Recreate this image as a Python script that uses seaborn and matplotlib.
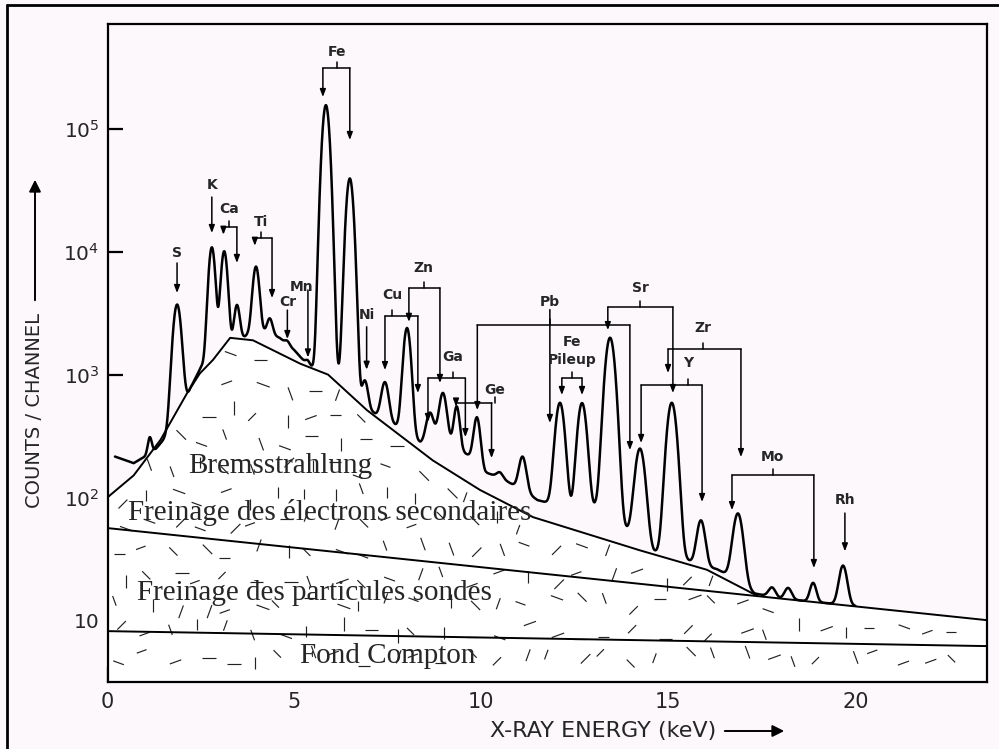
import numpy as np
import pandas as pd
import matplotlib
matplotlib.use("Agg")
import matplotlib.pyplot as plt
import seaborn as sns
from matplotlib import font_manager
from matplotlib.collections import LineCollection

# ------------------------------------------------------------------ data
# characteristic X-ray peaks (keV, counts above continuum, width keV)
peak_energy = [1.13, 1.86, 2.79, 3.12, 3.46, 3.97, 4.34, 4.81, 5.36, 5.84, 6.48, 6.88,
               7.42, 8.01, 8.62, 8.97, 9.34, 9.88, 10.49, 11.10, 12.10, 12.69, 13.44,
               14.24, 15.09, 15.87, 16.86, 17.77, 18.20, 18.87, 19.67]
peak_height = [80, 3300, 9600, 8600, 1850, 5450, 750, 120, 120, 156000, 39000, 400,
               440, 2070, 200, 410, 290, 250, 15, 100, 505, 515, 1930,
               205, 556, 37, 53, 3, 3.5, 6, 14.5]
peak_sigma = [0.05, 0.10, 0.08, 0.08, 0.07, 0.08, 0.07, 0.06, 0.06, 0.09, 0.09, 0.08,
              0.09, 0.09, 0.09, 0.09, 0.07, 0.08, 0.08, 0.09, 0.11, 0.11, 0.12,
              0.12, 0.12, 0.10, 0.12, 0.09, 0.09, 0.08, 0.10]

# continuum beneath the measured spectrum (keV, counts)
cont_energy = [0.20, 0.50, 0.70, 1.00, 1.30, 1.60, 2.00, 2.22, 2.50, 2.96, 3.46, 3.74,
               4.20, 4.60, 5.00, 5.40, 6.14, 6.80, 7.10, 7.42, 7.75, 8.01, 8.37, 8.62,
               8.80, 8.97, 9.22, 9.57, 9.88, 10.10, 10.50, 10.78, 11.10, 11.50, 12.10,
               12.40, 12.69, 13.05, 13.44, 13.85, 14.24, 14.60, 15.09, 15.60, 15.87,
               16.30, 16.86, 17.30, 18.00, 19.00, 20.00]
cont_counts = [215, 200, 190, 215, 250, 320, 500, 780, 1150, 1400, 1850, 2100,
               2200, 2000, 1580, 1150, 1000, 500, 490, 430, 380, 330, 280, 290,
               320, 300, 280, 228, 200, 160, 145, 130, 115, 95, 85,
               75, 72, 82, 70, 55, 45, 36, 34, 30, 28,
               26, 21, 16.5, 15.0, 14.0, 13.0]

# background components
brems_energy = [0.0, 0.70, 1.42, 2.13, 2.47, 2.82, 3.28, 3.89, 5.15, 5.90, 6.94,
                8.70, 9.96, 11.38, 14.24, 16.03, 17.37]
brems_counts = [100, 151, 295, 708, 1023, 1318, 1995, 1905, 1230, 1000, 513,
                200, 115, 69, 37, 25.7, 15.8]
probe_energy = [0.0, 23.5]
probe_counts = [56.2, 10.0]
compton_energy = [0.0, 23.5]
compton_counts = [8.13, 6.14]

x_ticks = [0, 5, 10, 15, 20]
x_tick_labels = ["0", "5", "10", "15", "20"]
y_ticks = [10, 100, 1000, 10000, 100000]
y_tick_labels = ["10", "$10^2$", "$10^3$", "$10^4$", "$10^5$"]

region_labels = ["Bremsstrahlung", "Freinage des électrons secondaires",
                 "Freinage des particules sondes", "Fond Compton"]

# ------------------------------------------------------------------ style
BG = "#fcf8fc"
sns.set_style("ticks")
names = {f.name for f in font_manager.fontManager.ttflist}
SANS = "Liberation Sans Narrow" if "Liberation Sans Narrow" in names else "DejaVu Sans"
plt.rcParams["font.family"] = [SANS, "DejaVu Sans"]
plt.rcParams["mathtext.fontset"] = "custom"
plt.rcParams["mathtext.rm"] = SANS
plt.rcParams["mathtext.it"] = SANS

W, H = 999, 749
fig = plt.figure(figsize=(W / 100, H / 100), dpi=100, facecolor=BG)
px0, px1, py0, py1 = 107.5, 987.0, 24.0, 682.0   # axes box in image pixels
ax = fig.add_axes([px0 / W, 1 - py1 / H, (px1 - px0) / W, (py1 - py0) / H])
ax.set_facecolor(BG)
ax.set_yscale("log")
XMAX, YMIN, YMAX = 23.52, 3.13, 7.2e5
ax.set_xlim(0, XMAX)
ax.set_ylim(YMIN, YMAX)

# ------------------------------------------------------------------ textured background region
up_E = brems_energy + [probe_energy[1]]
up_C = brems_counts + [probe_counts[1]]
ax.fill_between(up_E, YMIN, up_C, color="white", lw=0, zorder=1)

fig.canvas.draw()
inv = ax.transData.inverted()
segs = []
cell = 27.0
nx = int((px1 - px0) / cell) + 1
ny = int((py1 - py0) / cell) + 1
angles = np.deg2rad([0, 45, 90, 135, 20, 160, 70, 110])
for i in range(nx):
    for j in range(ny):
        h1 = (np.sin(i * 127.1 + j * 311.7) * 43758.5453) % 1.0
        h2 = (np.sin(i * 269.5 + j * 183.3) * 28001.8384) % 1.0
        h3 = (np.sin(i * 419.2 + j * 371.9) * 19642.3491) % 1.0
        cx = px0 + (i + 0.5) * cell + (h1 - 0.5) * 16
        cy = H - (py0 + (j + 0.5) * cell + (h2 - 0.5) * 16)
        e, c = inv.transform((cx, cy))
        if e < 0.15 or e > XMAX - 0.15 or c < YMIN * 1.25:
            continue
        lim = 10 ** np.interp(e, up_E, np.log10(up_C))
        if c > lim * 0.85:
            continue
        a = angles[int(h3 * len(angles)) % len(angles)]
        ln = 10 + 4 * h1
        dx, dy = np.cos(a) * ln / 2, np.sin(a) * ln / 2
        p0 = inv.transform((cx - dx, cy - dy))
        p1 = inv.transform((cx + dx, cy + dy))
        segs.append([p0, p1])
ax.add_collection(LineCollection(segs, colors="#222222", linewidths=0.85, zorder=2))

# ------------------------------------------------------------------ background curves
sns.lineplot(x=brems_energy, y=brems_counts, ax=ax, color="k", lw=1.4,
             estimator=None, sort=False, zorder=4)
sns.lineplot(x=probe_energy, y=probe_counts, ax=ax, color="k", lw=1.4,
             estimator=None, sort=False, zorder=4)
sns.lineplot(x=compton_energy, y=compton_counts, ax=ax, color="k", lw=1.4,
             estimator=None, sort=False, zorder=4)

# ------------------------------------------------------------------ spectrum
E = np.arange(0.20, 20.0001, 0.004)
spec = 10 ** np.interp(E, cont_energy, np.log10(cont_counts))
for e0, hgt, s in zip(peak_energy, peak_height, peak_sigma):
    spec = spec + hgt * np.exp(-(E - e0) ** 2 / (2 * s ** 2))
spec_df = pd.DataFrame({"energy": E, "counts": spec})
sns.lineplot(data=spec_df, x="energy", y="counts", ax=ax, color="k", lw=1.8,
             estimator=None, sort=False, zorder=5)

# ------------------------------------------------------------------ axes cosmetics
ax.set_xlabel("")
ax.set_ylabel("")
ax.set_xticks(x_ticks)
ax.set_xticklabels(x_tick_labels)
ax.set_yticks(y_ticks)
ax.set_yticklabels(y_tick_labels)
ax.minorticks_off()
ax.tick_params(axis="both", direction="in", length=11, width=1.6, color="k")
ax.tick_params(axis="x", labelsize=15, pad=7)
ax.tick_params(axis="y", labelsize=14.5, pad=6)
for sp in ax.spines.values():
    sp.set_linewidth(1.6)
    sp.set_color("k")
    sp.set_zorder(6)

# region names (serif)
def axfrac(x, y):
    return (x - px0) / (px1 - px0), (py1 - y) / (py1 - py0)

for txt, (x, y) in zip(region_labels, [(188, 473), (128, 520), (137, 600), (300, 663)]):
    ax.text(*axfrac(x, y), txt, transform=ax.transAxes, ha="left", va="baseline",
            fontsize=21, family=["Liberation Serif", "DejaVu Serif"], zorder=7)

# ------------------------------------------------------------------ peak identifications
AKW = dict(color="k", lw=1.1)
def arrow(e, c_from, c_to):
    ax.annotate("", xy=(e, 10 ** c_to), xytext=(e, 10 ** c_from),
                arrowprops=dict(arrowstyle="-|>,head_length=0.45,head_width=0.17",
                                color="k", lw=1.1, shrinkA=0, shrinkB=0), zorder=8)

def label(e, c, txt):
    ax.text(e, 10 ** c, txt, ha="center", va="center", fontsize=10,
            fontweight="bold", zorder=8)

singles = [("S", 1.86, 3.99, 3.91, 3.665), ("K", 2.79, 4.545, 4.447, 4.154),
           ("Cr", 4.81, 3.592, 3.526, 3.29), ("Ni", 6.93, 3.486, 3.39, 3.04),
           ("Rh", 19.72, 1.978, 1.872, 1.56)]
for t, e, lc, c0, c1 in singles:
    label(e, lc, t)
    arrow(e, c0, c1)
label(5.2, 3.714, "Mn")
arrow(5.36, 3.69, 3.14)

brackets = [
    ("Ca", 3.25, 4.35, 4.203, [(3.10, 4.14), (3.46, 3.91)]),
    ("Ti", 4.10, 4.244, 4.113, [(3.94, 4.05), (4.40, 3.624)]),
    ("Fe", 6.14, 5.629, 5.499, [(5.76, 5.262), (6.48, 4.912)]),
    ("Cu", 7.61, 3.649, 3.478, [(7.42, 3.037), (8.30, 2.85)]),
    ("Zn", 8.46, 3.869, 3.706, [(8.06, 3.43), (8.89, 2.932)]),
    ("Ga", 9.24, 3.143, 2.972, [(8.57, 2.614), (9.57, 2.491)]),
    ("Ge", 10.35, 2.874, 2.769, [(9.32, 2.74), (10.27, 2.32)]),
    ("Pb", 11.83, 3.592, 3.404, [(9.89, 2.711), (13.97, 2.385)]),
    ("", 12.42, 3.0, 2.972, [(12.15, 2.834), (12.69, 2.834)]),
    ("Sr", 14.24, 3.706, 3.551, [(13.38, 3.363), (15.12, 2.85)]),
    ("Zr", 15.92, 3.38, 3.209, [(14.99, 3.013), (16.94, 2.328)]),
    ("Y", 15.52, 3.094, 2.915, [(14.27, 2.443), (15.90, 1.962)]),
    ("Mo", 17.79, 2.328, 2.182, [(16.70, 1.896), (18.89, 1.424)]),
]
for t, le, lc, bc, legs in brackets:
    e1, e2 = legs[0][0], legs[-1][0]
    ax.plot([e1, e2], [10 ** bc, 10 ** bc], zorder=8, **AKW)
    ax.plot([le, le], [10 ** bc, 10 ** (bc + 0.05)], zorder=8, **AKW)
    for e, tip in legs:
        arrow(e, bc, tip)
    if t:
        label(le, lc, t)
# Pb central line and Fe pile-up labels
arrow(11.83, 3.53, 2.606)
label(12.42, 3.266, "Fe")
label(12.42, 3.119, "Pileup")

# ------------------------------------------------------------------ axis titles with arrows
fig.text(35 / W, 1 - 411 / H, "COUNTS / CHANNEL", rotation=90, ha="center",
         va="center", fontsize=14, family=["DejaVu Sans"])
fig.add_artist(matplotlib.patches.FancyArrowPatch(
    (35 / W, 1 - 303 / H), (35 / W, 1 - 177 / H), transform=fig.transFigure,
    arrowstyle="-|>,head_length=7,head_width=3.5", color="k", lw=1.4))
fig.text(716 / W, 1 - 731 / H, "X-RAY ENERGY (keV)", ha="right", va="center",
         fontsize=16, family=["DejaVu Sans"])
fig.add_artist(matplotlib.patches.FancyArrowPatch(
    (722 / W, 1 - 731 / H), (787 / W, 1 - 731 / H), transform=fig.transFigure,
    arrowstyle="-|>,head_length=7,head_width=3.5", color="k", lw=1.4))

# outer frame of the scanned page
fig.add_artist(plt.Line2D([7 / W, 7 / W], [0, 1 - 5 / H], transform=fig.transFigure,
                          color="k", lw=2))
fig.add_artist(plt.Line2D([7 / W, 1], [1 - 5 / H, 1 - 5 / H], transform=fig.transFigure,
                          color="k", lw=2))

fig.savefig("out.png", dpi=100, facecolor=BG)
